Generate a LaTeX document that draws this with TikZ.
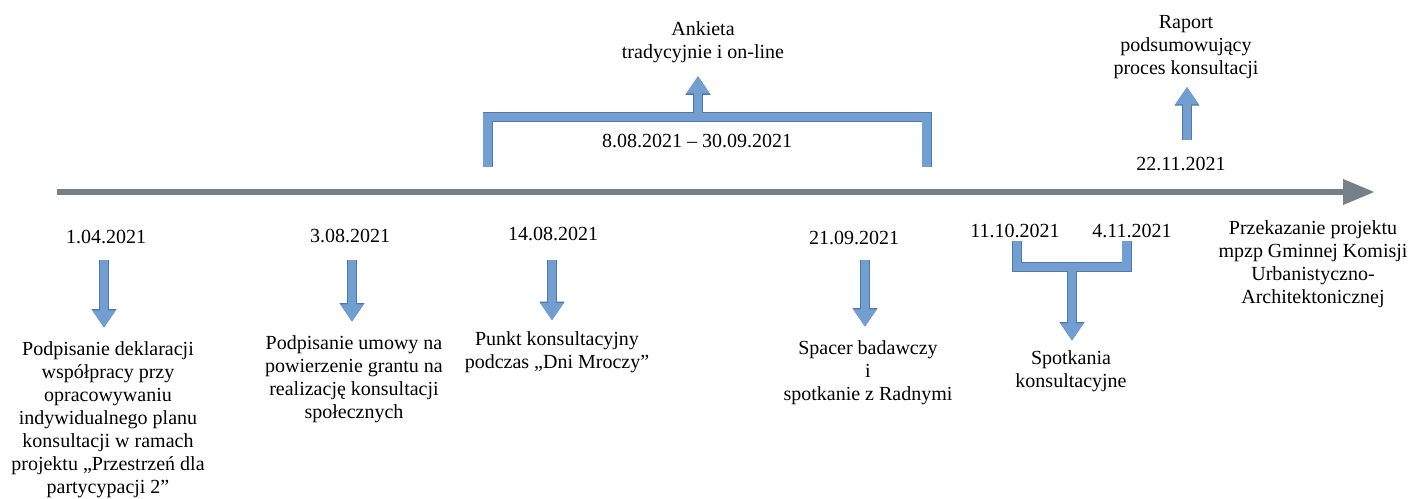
\documentclass[tikz,border=0pt]{standalone}
\usepackage{fontspec}
\setmainfont{Liberation Serif}
\usepackage{tikz}
\usetikzlibrary{arrows.meta}
\definecolor{blkfill}{RGB}{114,159,207}
\definecolor{blkline}{RGB}{80,120,172}
\definecolor{axisgray}{RGB}{118,128,138}

\begin{document}
\begin{tikzpicture}[x=0.75pt,y=-0.75pt,
                    every node/.style={inner sep=0pt,align=center,font=\fontsize{15}{17.3}\selectfont}]
  \tikzstyle{blk}=[line width=6.5pt,draw=blkfill,-{Triangle[width=16.5pt,length=13pt]},shorten >=10pt,
                   preaction={draw=blkline,line width=7.5pt,-{Triangle[width=18pt,length=14pt]}}]
  \tikzstyle{brk}=[line width=6.5pt,draw=blkfill,line join=miter,
                   preaction={draw=blkline,line width=7.5pt,line join=miter}]
  \tikzstyle{axis}=[line width=5pt,draw=axisgray,-{Triangle[width=18pt,length=24pt]}]
  \useasboundingbox (0,0) rectangle (1416,499);

  \node (ank)   [anchor=north] at (703,21)  {Ankieta\\tradycyjnie i on-line};
  \node (rap)   [anchor=north] at (1186,15) {Raport\\podsumowujący\\proces konsultacji};
  \node (okres) [anchor=base]  at (697,148) {8.08.2021 – 30.09.2021};
  \node (d7)    [anchor=base]  at (1181,171) {22.11.2021};

  \node (d1) [anchor=base] at (106,243)  {1.04.2021};
  \node (d2) [anchor=base] at (350,242)  {3.08.2021};
  \node (d3) [anchor=base] at (553,240)  {14.08.2021};
  \node (d4) [anchor=base] at (854,244)  {21.09.2021};
  \node (d5) [anchor=base] at (1015,237) {11.10.2021};
  \node (d6) [anchor=base] at (1132,237) {4.11.2021};

  \node (t1) [anchor=north] at (108,341)  {Podpisanie deklaracji\\współpracy przy\\opracowywaniu\\indywidualnego planu\\konsultacji w ramach\\projektu „Przestrzeń dla\\partycypacji 2”};
  \node (t2) [anchor=north] at (354,335)  {Podpisanie umowy na\\powierzenie grantu na\\realizację konsultacji\\społecznych};
  \node (t3) [anchor=north] at (557,331)  {Punkt konsultacyjny\\podczas „Dni Mroczy”};
  \node (t4) [anchor=north] at (868,340)  {Spacer badawczy\\i\\spotkanie z Radnymi};
  \node (t5) [anchor=north] at (1071,350) {Spotkania\\konsultacyjne};
  \node (t6) [anchor=north] at (1313,220) {Przekazanie projektu\\mpzp Gminnej Komisji\\Urbanistyczno-\\Architektonicznej};

  \coordinate (ax0) at (57,192);
  \coordinate (ax1) at (1375,192);
  \draw[axis] (ax0) -- (ax1);

  \coordinate (bl) at (487.5,167);
  \coordinate (br) at (926.5,167);
  \draw[brk] (bl) -- ++(0,-50) -| (br);
  \coordinate (bt) at (698,113);
  \draw[blk] (bt) -- (bt |- ank.south);

  \coordinate (rt) at (1187,140);
  \draw[blk,shorten >=6pt] (rt) -- (rt |- rap.south);

  \coordinate (cl) at (1017,241);
  \coordinate (cr) at (1126.5,241);
  \draw[brk] (cl) -- ++(0,26) -| (cr);
  \coordinate (ct) at (1072,271);
  \draw[blk,shorten >=7pt] (ct) -- (ct |- t5.north);

  \coordinate (a1) at (104,260);
  \coordinate (a2) at (352,260);
  \coordinate (a3) at (552,260);
  \coordinate (a4) at (865,260);
  \draw[blk] (a1) -- (a1 |- t1.north);
  \draw[blk] (a2) -- (a2 |- t2.north);
  \draw[blk,shorten >=8pt] (a3) -- (a3 |- t3.north);
  \draw[blk] (a4) -- (a4 |- t4.north);
\end{tikzpicture}
\end{document}
